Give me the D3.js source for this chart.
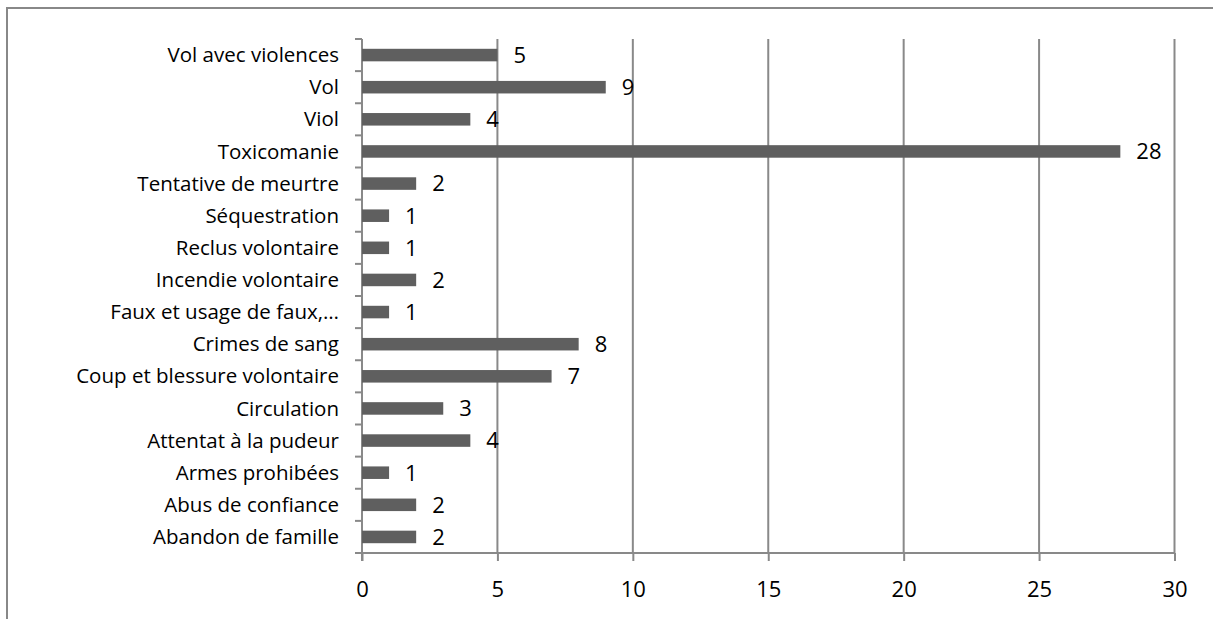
<!DOCTYPE html>
<html><head><meta charset="utf-8">
<script src="https://cdn.jsdelivr.net/npm/d3@7"></script>
<style>body{margin:0;background:#fff}svg{display:block}text{font-family:"Open Sans",sans-serif;fill:#000}</style>
</head><body><svg id="c" width="1213" height="619"></svg>
<script>
const categories = ["Vol avec violences","Vol","Viol","Toxicomanie","Tentative de meurtre","Séquestration","Reclus volontaire","Incendie volontaire","Faux et usage de faux,…","Crimes de sang","Coup et blessure volontaire","Circulation","Attentat à la pudeur","Armes prohibées","Abus de confiance","Abandon de famille"];
const values = [5,9,4,28,2,1,1,2,1,8,7,3,4,1,2,2];
const xTicks = [0,5,10,15,20,25,30];

const svg = d3.select("#c");
svg.append("rect").attr("x",7).attr("y",8).attr("width",1220).attr("height",630)
  .attr("fill","none").attr("stroke","#888").attr("stroke-width",2);

const x = d3.scaleLinear().domain([0,30]).range([362,1174.5]);
const y = d3.scaleBand().domain(categories).range([39,553]).paddingInner(0.61).paddingOuter(0.305);
const yb = d3.scaleBand().domain(categories).range([39,553]);

// gridlines
svg.append("g").selectAll("line").data(xTicks.slice(1)).join("line")
  .attr("x1",d=>x(d)).attr("x2",d=>x(d)).attr("y1",39).attr("y2",553)
  .attr("stroke","#898989").attr("stroke-width",2);

// x axis
const xa = svg.append("g").attr("transform","translate(0,553)")
  .call(d3.axisBottom(x).tickValues(xTicks).tickSize(8).tickPadding(20));
xa.select(".domain").attr("stroke","#898989").attr("stroke-width",2).attr("d","M355,0H1174.5");
xa.selectAll(".tick line").attr("stroke","#898989").attr("stroke-width",2);
xa.selectAll("text").style("font-size","22px").style("font-family","'Open Sans',sans-serif").attr("fill","#000");

// y axis
svg.append("line").attr("x1",362).attr("x2",362).attr("y1",39).attr("y2",561).attr("stroke","#898989").attr("stroke-width",2);
svg.append("g").selectAll("line").data(d3.range(categories.length)).join("line")
  .attr("x1",355).attr("x2",362).attr("y1",i=>39+i*yb.step()).attr("y2",i=>39+i*yb.step())
  .attr("stroke","#898989").attr("stroke-width",2);
svg.append("g").selectAll("text").data(categories).join("text")
  .attr("x",339).attr("y",d=>yb(d)+yb.bandwidth()/2).attr("dy","0.35em").attr("text-anchor","end")
  .style("font-size","20.5px").text(d=>d);

// bars
svg.append("g").selectAll("rect").data(values).join("rect")
  .attr("x",x(0)).attr("y",(d,i)=>y(categories[i])).attr("height",y.bandwidth())
  .attr("width",d=>x(d)-x(0)).attr("fill","#5f5f5f");

// value labels
svg.append("g").selectAll("text").data(values).join("text")
  .attr("x",d=>x(d)+16).attr("y",(d,i)=>yb(categories[i])+yb.bandwidth()/2).attr("dy","0.36em")
  .style("font-size","22px").text(d=>d);
</script></body></html>
